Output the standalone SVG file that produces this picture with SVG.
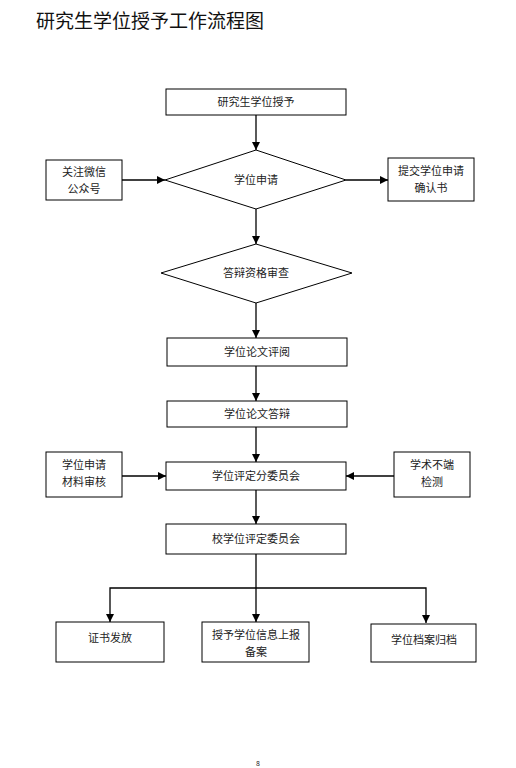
<svg xmlns="http://www.w3.org/2000/svg" width="516" height="768" viewBox="0 0 516 768">
<style>
.box{fill:#fff;stroke:#000;stroke-width:1}
.t{font-family:"Noto Sans CJK SC","Noto Sans",sans-serif;font-size:11px;fill:#222;text-anchor:middle}
.title{font-family:"Noto Sans CJK SC","Noto Sans",sans-serif;font-size:19px;fill:#111}
.c{fill:none;stroke:#000;stroke-width:1.3}
</style>
<defs>
<marker id="ah" markerUnits="userSpaceOnUse" markerWidth="8" markerHeight="8" refX="8" refY="4" orient="auto">
<path d="M0,0 L8,4 L0,8 z" fill="#000"/>
</marker>
</defs>
<rect width="516" height="768" fill="#fff"/>
<text class="title" x="36" y="28">研究生学位授予工作流程图</text>

<g id="connectors">
<line class="c" x1="256" y1="115" x2="256" y2="150" marker-end="url(#ah)"/>
<line class="c" x1="122" y1="180" x2="165" y2="180" marker-end="url(#ah)"/>
<line class="c" x1="346" y1="180" x2="388" y2="180" marker-end="url(#ah)"/>
<line class="c" x1="256" y1="209" x2="256" y2="244" marker-end="url(#ah)"/>
<line class="c" x1="256" y1="303" x2="256" y2="338" marker-end="url(#ah)"/>
<line class="c" x1="256" y1="366" x2="256" y2="401" marker-end="url(#ah)"/>
<line class="c" x1="256" y1="427" x2="256" y2="462" marker-end="url(#ah)"/>
<line class="c" x1="122" y1="476" x2="166" y2="476" marker-end="url(#ah)"/>
<line class="c" x1="394" y1="476" x2="346" y2="476" marker-end="url(#ah)"/>
<line class="c" x1="256" y1="490" x2="256" y2="524" marker-end="url(#ah)"/>
<line class="c" x1="256" y1="554" x2="256" y2="622" marker-end="url(#ah)"/>
<polyline class="c" points="256,588 110,588 110,622" marker-end="url(#ah)"/>
<polyline class="c" points="256,588 426,588 426,623" marker-end="url(#ah)"/>
</g>

<g id="n1"><rect class="box" x="166" y="89" width="180" height="26"/><text class="t" x="256" y="106">研究生学位授予</text></g>
<g id="n2"><polygon class="box" points="256,150 346,180 256,209 165,180"/><text class="t" x="256" y="184">学位申请</text></g>
<g id="n3"><rect class="box" x="46" y="160" width="76" height="40"/><text class="t" x="84" y="176">关注微信</text><text class="t" x="84" y="193">公众号</text></g>
<g id="n4"><rect class="box" x="388" y="158" width="86" height="43"/><text class="t" x="431" y="175">提交学位申请</text><text class="t" x="431" y="192">确认书</text></g>
<g id="n5"><polygon class="box" points="256,244 352,273 256,303 161,273"/><text class="t" x="256" y="277">答辩资格审查</text></g>
<g id="n6"><rect class="box" x="167" y="338" width="180" height="28"/><text class="t" x="257" y="356">学位论文评阅</text></g>
<g id="n7"><rect class="box" x="167" y="401" width="180" height="26"/><text class="t" x="257" y="418">学位论文答辩</text></g>
<g id="n8"><rect class="box" x="166" y="462" width="180" height="28"/><text class="t" x="256" y="480">学位评定分委员会</text></g>
<g id="n9"><rect class="box" x="46" y="452" width="76" height="45"/><text class="t" x="84" y="469">学位申请</text><text class="t" x="84" y="486">材料审核</text></g>
<g id="n10"><rect class="box" x="394" y="452" width="76" height="45"/><text class="t" x="432" y="469">学术不端</text><text class="t" x="432" y="486">检测</text></g>
<g id="n11"><rect class="box" x="166" y="524" width="180" height="30"/><text class="t" x="256" y="543">校学位评定委员会</text></g>
<g id="n12"><rect class="box" x="56" y="622" width="108" height="40"/><text class="t" x="110" y="642">证书发放</text></g>
<g id="n13"><rect class="box" x="202" y="622" width="107" height="40"/><text class="t" x="256" y="639">授予学位信息上报</text><text class="t" x="256" y="656">备案</text></g>
<g id="n14"><rect class="box" x="371" y="624" width="105" height="38"/><text class="t" x="424" y="644">学位档案归档</text></g>
<text class="t" x="258" y="766" style="font-size:7px">8</text>
</svg>
